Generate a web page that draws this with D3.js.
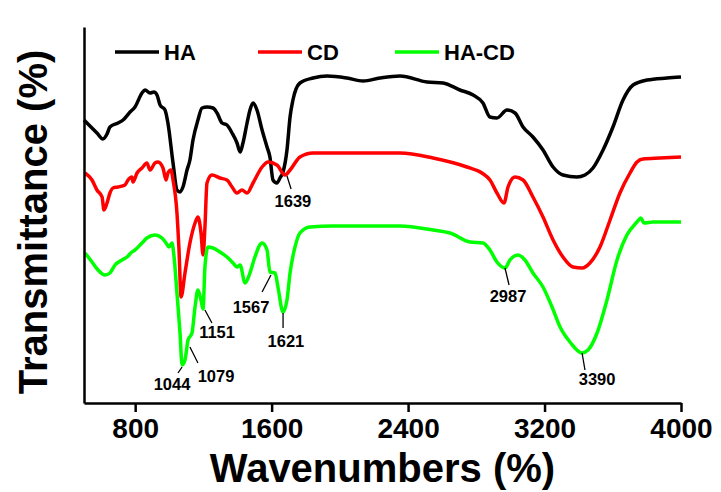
<!DOCTYPE html>
<html>
<head>
<meta charset="utf-8">
<script src="https://cdn.jsdelivr.net/npm/d3@7"></script>
<style>
  body { margin: 0; background: #fff; }
  text { font-family: "Liberation Sans", Arial, sans-serif; font-weight: bold; }
</style>
</head>
<body>
<div id="chart"></div>
<script>
// wavenumber (cm-1), transmittance (offset, a.u.)
const haSpectrum = [
  [500,70.75],[535,69.25],[576,67.5],[611,66],[635,67.25],[652,69],[699,70],[729,70.75],
  [770,72.75],[799,74],[840,77.5],[858,78.25],[887,77.5],[910,77.75],[928,77],[946,74.5],
  [975,73.25],[992,70],[1022,60],[1045,53.25],[1063,52.75],[1080,54],[1104,58.25],[1121,60.75],
  [1139,65.75],[1168,70.75],[1192,73.75],[1221,74],[1256,73.75],[1280,72.5],[1309,70],[1338,69.5],
  [1368,67.5],[1397,65],[1415,62.75],[1432,65],[1456,70],[1473,73.25],[1491,75],[1514,73.25],
  [1544,68.25],[1573,64],[1590,61.5],[1608,55.75],[1631,55],[1649,56.25],[1667,57.75],[1690,63.25],
  [1708,71.5],[1725,75.75],[1766,80],[1843,81.25],[1925,81.75],[2042,81.25],[2136,80.5],[2235,81.25],
  [2353,81.75],[2511,80.25],[2605,80],[2704,78.25],[2781,77],[2839,75],[2880,71.5],[2921,71.25],
  [2980,73.25],[3027,72.5],[3074,69],[3132,66.5],[3191,63.25],[3250,59],[3308,57],[3390,56.5],
  [3437,57],[3484,58.75],[3543,63.25],[3601,69],[3660,75.75],[3719,79.5],[3801,80.75],[3918,81.25],
  [4000,81.5]
];

const cdSpectrum = [
  [506,57.5],[547,55.75],[576,53.25],[606,51.5],[617,48.25],[635,50],[652,52.5],[670,53.75],
  [699,54],[740,54.5],[758,55.75],[781,56.5],[787,55.25],[811,57.5],[840,58.75],[869,60],
  [887,58.25],[916,60],[934,60.25],[963,58.75],[981,55.75],[992,57.5],[1010,58.25],[1022,55.75],
  [1045,47.5],[1057,38.25],[1069,26.5],[1092,32.5],[1121,40],[1151,45],[1168,46.5],[1186,42.5],
  [1198,37],[1209,44],[1221,55],[1250,57],[1297,56.25],[1338,55.75],[1368,54],[1397,52.5],
  [1426,53.25],[1456,52.5],[1491,55],[1544,59],[1579,60.25],[1631,59.5],[1678,57],[1708,58.25],
  [1766,61.5],[1843,62.5],[2042,62.5],[2353,62.5],[2546,61.25],[2745,59],[2833,57.5],[2880,55.75],
  [2921,52.5],[2962,50],[2986,54],[3027,56.5],[3074,55.75],[3132,51.5],[3191,46.5],[3250,40.75],
  [3308,36.5],[3367,34],[3420,33.75],[3466,35],[3525,39],[3584,45.75],[3642,52.5],[3701,57.5],
  [3742,60.25],[3777,61],[3877,61.25],[4000,61.5]
];

const hacdSpectrum = [
  [506,37.5],[547,35.25],[582,33.25],[623,32],[652,32.5],[682,34.5],[723,35.75],[752,36.5],
  [781,37.75],[799,38.25],[840,40],[869,41.25],[916,42],[957,41.25],[981,40],[998,39],
  [1016,40],[1028,36.5],[1045,27.5],[1063,17.5],[1075,9.5],[1092,10.75],[1110,15.75],[1133,17.5],
  [1151,24],[1168,28.25],[1186,25.75],[1198,23.5],[1209,34],[1227,39],[1256,38.75],[1297,37.75],
  [1338,36.5],[1374,35],[1397,34],[1415,34.5],[1444,30],[1473,32.5],[1502,36.5],[1544,40],
  [1573,38.25],[1590,32.75],[1620,32.5],[1637,29],[1667,22.75],[1690,25.75],[1708,32.5],[1737,39],
  [1766,42.5],[1825,44],[1960,44.25],[2353,44.25],[2546,43.25],[2646,42.5],[2763,40.25],[2839,40],
  [2880,38.25],[2921,35.25],[2968,33.75],[2997,35.75],[3044,37],[3085,35.75],[3132,32.5],[3191,29],
  [3244,24],[3291,19],[3349,15.25],[3420,12.5],[3455,13.25],[3508,17.5],[3566,25.75],[3625,35.75],
  [3683,42],[3742,45.25],[3765,46.25],[3783,45],[3836,45.25],[4000,45.25]
];

const seriesNames = ["HA", "CD", "HA-CD"];
const xTicks = [800, 1600, 2400, 3200, 4000];

// peak labels: text, leader line from [w,v] to [w,v], label anchor [w,v]
const peakLabels = [
  ["1044", [1075, 9], [1051, 7.5], [1016, 3.25]],
  ["1079", [1121, 14], [1168, 10], [1274, 5.25]],
  ["1151", [1209, 23.25], [1250, 20], [1280, 16.25]],
  ["1567", [1596, 32], [1544, 27.75], [1479, 22.5]],
  ["1621", [1667, 22.5], [1667, 18.75], [1684, 14]],
  ["1639", [1690, 56.75], [1714, 53.5], [1725, 49]],
  ["2987", [2968, 33.75], [2992, 29.5], [2986, 25.25]],
  ["3390", [3420, 12.5], [3437, 8.25], [3508, 4.5]]
];

const colors = ["#000000", "#ff0000", "#00ff00"];
const spectra = [haSpectrum, cdSpectrum, hacdSpectrum];

const width = 721, height = 492;
const margin = { top: 27, right: 40, bottom: 89, left: 84 };

const svg = d3.select("#chart")
  .append("svg")
  .attr("width", width)
  .attr("height", height);

const x = d3.scaleLinear().domain([500, 4000]).range([margin.left, width - margin.right]);
const y = d3.scaleLinear().domain([0, 94]).range([height - margin.bottom, margin.top]);

// 曲线
const line = d3.line()
  .x(d => x(d[0]))
  .y(d => y(d[1]))
  .curve(d3.curveMonotoneX);

svg.append("g")
  .selectAll("path")
  .data(spectra)
  .join("path")
  .attr("fill", "none")
  .attr("stroke", (d, i) => colors[i])
  .attr("stroke-width", 3.5)
  .attr("stroke-linejoin", "round")
  .attr("d", line);

// 坐标轴
const xAxis = svg.append("g")
  .attr("transform", `translate(0,${height - margin.bottom})`)
  .call(d3.axisBottom(x).tickValues(xTicks).tickFormat(d3.format("d"))
    .tickSize(9).tickSizeOuter(0).tickPadding(6));
xAxis.select(".domain").attr("stroke-width", 2.5);
xAxis.selectAll(".tick line").attr("stroke-width", 2.5);
xAxis.selectAll(".tick text")
  .attr("font-size", 28)
  .attr("font-family", "Liberation Sans, Arial, sans-serif")
  .attr("font-weight", "bold")
  .attr("fill", "#000");

const yAxis = svg.append("g")
  .attr("transform", `translate(${margin.left},0)`)
  .call(d3.axisLeft(y).tickValues([]).tickSizeOuter(0));
yAxis.select(".domain").attr("stroke-width", 2.5);

svg.append("text")
  .attr("x", (margin.left + width - margin.right) / 2)
  .attr("y", 482)
  .attr("text-anchor", "middle")
  .attr("font-size", 40)
  .text("Wavenumbers (%)");

svg.append("text")
  .attr("transform", `translate(47,${(margin.top + height - margin.bottom) / 2 + 7}) rotate(-90)`)
  .attr("text-anchor", "middle")
  .attr("font-size", 40)
  .text("Transmittance (%)");

// 图例
const legendX = [115, 258, 395];
const legend = svg.append("g")
  .selectAll("g")
  .data(seriesNames)
  .join("g")
  .attr("transform", (d, i) => `translate(${legendX[i]},52)`);
legend.append("line")
  .attr("x1", 0).attr("x2", 44)
  .attr("stroke", (d, i) => colors[i])
  .attr("stroke-width", 3.5);
legend.append("text")
  .attr("x", 49)
  .attr("dy", "0.36em")
  .attr("font-size", 22)
  .text(d => d);

// 峰值标注
const ann = svg.append("g")
  .selectAll("g")
  .data(peakLabels)
  .join("g");
ann.append("line")
  .attr("x1", d => x(d[1][0])).attr("y1", d => y(d[1][1]))
  .attr("x2", d => x(d[2][0])).attr("y2", d => y(d[2][1]))
  .attr("stroke", "#000")
  .attr("stroke-width", 1.3);
ann.append("text")
  .attr("x", d => x(d[3][0]))
  .attr("y", d => y(d[3][1]))
  .attr("text-anchor", "middle")
  .attr("font-size", 16.5)
  .text(d => d[0]);
</script>
</body>
</html>
